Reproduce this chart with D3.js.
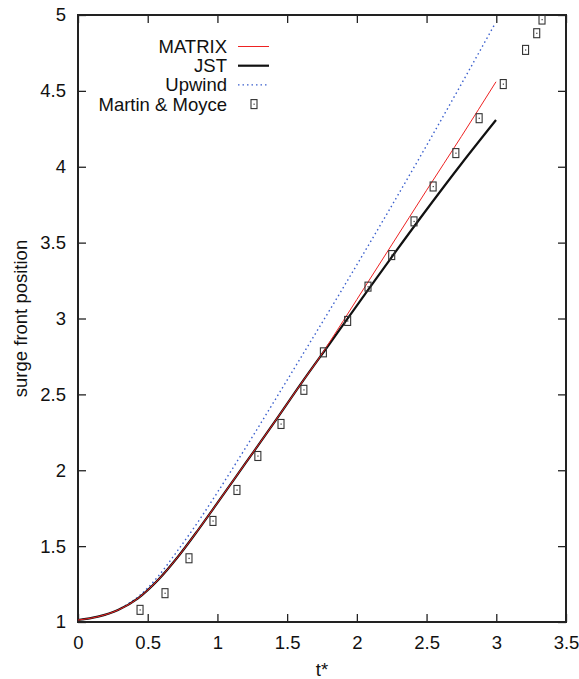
<!DOCTYPE html>
<html>
<head>
<meta charset="utf-8">
<script src="https://cdn.jsdelivr.net/npm/d3@7"></script>
<style>
  html, body { margin: 0; padding: 0; background: #fff; }
  svg { display: block; font-family: "Liberation Sans", Arial, Helvetica, sans-serif; }
</style>
</head>
<body>
<svg id="chart" width="579" height="679"></svg>
<script>
// Surge front position vs. dimensionless time t*
const xTicks = [0, 0.5, 1, 1.5, 2, 2.5, 3, 3.5];
const yTicks = [1, 1.5, 2, 2.5, 3, 3.5, 4, 4.5, 5];

// JST scheme
const jstT = [0, 0.143, 0.287, 0.43, 0.574, 0.717, 0.861, 1.004, 1.2, 1.4, 1.616, 1.807, 2.0, 2.25, 2.525, 2.75, 2.998];
const jstY = [1.013, 1.035, 1.079, 1.156, 1.277, 1.43, 1.606, 1.79, 2.045, 2.305, 2.592, 2.837, 3.085, 3.405, 3.748, 4.02, 4.308];

// MATRIX scheme (coincides with JST until t* ~ 1.75)
const matrixT = [0, 0.143, 0.287, 0.43, 0.574, 0.717, 0.861, 1.004, 1.2, 1.4, 1.616, 1.72, 1.807, 2.0, 2.25, 2.5, 2.75, 2.998];
const matrixY = [1.013, 1.035, 1.079, 1.156, 1.277, 1.43, 1.606, 1.79, 2.045, 2.305, 2.592, 2.726, 2.848, 3.125, 3.485, 3.845, 4.2, 4.56];

// Upwind scheme
const upwindT = [0, 0.143, 0.287, 0.36, 0.43, 0.574, 0.717, 0.861, 1.004, 1.2, 1.413, 1.6, 1.9, 2.19, 2.5, 2.99];
const upwindY = [1.013, 1.035, 1.08, 1.12, 1.165, 1.3, 1.474, 1.66, 1.86, 2.145, 2.463, 2.745, 3.2, 3.649, 4.14, 4.941];

// Martin & Moyce experimental data
const expT = [0.445, 0.624, 0.796, 0.968, 1.14, 1.29, 1.456, 1.62, 1.76, 1.934, 2.08, 2.25, 2.41, 2.547, 2.71, 2.877, 3.05, 3.21, 3.29, 3.328];
const expY = [1.08, 1.19, 1.42, 1.666, 1.87, 2.094, 2.305, 2.53, 2.777, 2.984, 3.21, 3.418, 3.64, 3.87, 4.09, 4.32, 4.545, 4.77, 4.88, 4.97];

const svg = d3.select("#chart");
const margin = { left: 78, right: 13, top: 15, bottom: 57 };
const W = 579, H = 679;
const x = d3.scaleLinear().domain([0, 3.5]).range([margin.left, W - margin.right]);
const y = d3.scaleLinear().domain([1, 5]).range([H - margin.bottom, margin.top]);

const fontSize = 18.5;
const tickLen = 8;
const fmt = d => String(d);

// Axes with inward ticks on all four sides
const gx = svg.append("g").attr("transform", `translate(0,${y(1)})`)
  .call(d3.axisBottom(x).tickValues(xTicks).tickSize(-tickLen).tickPadding(14).tickFormat(fmt));
const gxt = svg.append("g").attr("transform", `translate(0,${y(5)})`)
  .call(d3.axisTop(x).tickValues(xTicks).tickSize(-tickLen).tickFormat(""));
const gy = svg.append("g").attr("transform", `translate(${x(0)},0)`)
  .call(d3.axisLeft(y).tickValues(yTicks).tickSize(-tickLen).tickPadding(12).tickFormat(fmt));
const gyr = svg.append("g").attr("transform", `translate(${x(3.5)},0)`)
  .call(d3.axisRight(y).tickValues(yTicks).tickSize(-tickLen).tickFormat(""));

[gx, gxt, gy, gyr].forEach(g => {
  g.select(".domain").remove();
  g.selectAll(".tick line").attr("stroke", "#222").attr("stroke-width", 1.3);
  g.selectAll(".tick text").attr("font-size", fontSize).attr("fill", "#111")
    .attr("font-family", "Liberation Sans, Arial, sans-serif");
});
gx.selectAll(".tick text").attr("dy", "0.71em");

// Frame
svg.append("rect")
  .attr("x", x(0)).attr("y", y(5))
  .attr("width", x(3.5) - x(0)).attr("height", y(1) - y(5))
  .attr("fill", "none").attr("stroke", "#222").attr("stroke-width", 2);

// Axis titles
svg.append("text")
  .attr("x", (x(0) + x(3.5)) / 2).attr("y", 676)
  .attr("text-anchor", "middle").attr("font-size", fontSize).attr("fill", "#111")
  .text("t*");
svg.append("text")
  .attr("transform", `translate(27,${(y(1) + y(5)) / 2}) rotate(-90)`)
  .attr("text-anchor", "middle").attr("font-size", fontSize).attr("fill", "#111")
  .text("surge front position");

const line = d3.line().x(d => x(d[0])).y(d => y(d[1])).curve(d3.curveMonotoneX);
const zip = (a, b) => a.map((v, i) => [v, b[i]]);

// Curves
svg.append("path").datum(zip(upwindT, upwindY)).attr("d", line)
  .attr("fill", "none").attr("stroke", "#3a5fcd").attr("stroke-width", 1.4)
  .attr("stroke-dasharray", "1.5,3");
svg.append("path").datum(zip(jstT, jstY)).attr("d", line)
  .attr("fill", "none").attr("stroke", "#111").attr("stroke-width", 2.2);
svg.append("path").datum(zip(matrixT, matrixY)).attr("d", line)
  .attr("fill", "none").attr("stroke", "#ee2222").attr("stroke-width", 1);

// Experimental markers: small box with a centre dot
function marker(g, cx, cy) {
  g.append("rect").attr("x", cx - 3).attr("y", cy - 4.5).attr("width", 6).attr("height", 9)
    .attr("fill", "none").attr("stroke", "#333").attr("stroke-width", 1.1);
  g.append("rect").attr("x", cx - 0.5).attr("y", cy - 0.5).attr("width", 1.2).attr("height", 1.2)
    .attr("fill", "#333");
}
const gm = svg.append("g");
zip(expT, expY).forEach(d => marker(gm, x(d[0]), y(d[1])));

// Legend
const legend = [
  { label: "MATRIX", type: "line", color: "#ee2222", w: 1, dash: null },
  { label: "JST", type: "line", color: "#111", w: 2.2, dash: null },
  { label: "Upwind", type: "line", color: "#3a5fcd", w: 1.4, dash: "1.5,3" },
  { label: "Martin & Moyce", type: "marker" }
];
const lg = svg.append("g");
legend.forEach((d, i) => {
  const cy = 46.5 + i * 19.2;
  lg.append("text").attr("x", 227).attr("y", cy).attr("dy", "0.35em")
    .attr("text-anchor", "end").attr("font-size", fontSize).attr("fill", "#111").text(d.label);
  if (d.type === "line") {
    const l = lg.append("line").attr("x1", 238).attr("x2", 269).attr("y1", cy).attr("y2", cy)
      .attr("stroke", d.color).attr("stroke-width", d.w);
    if (d.dash) l.attr("stroke-dasharray", d.dash);
  } else {
    marker(lg, 254, cy);
  }
});
</script>
</body>
</html>
